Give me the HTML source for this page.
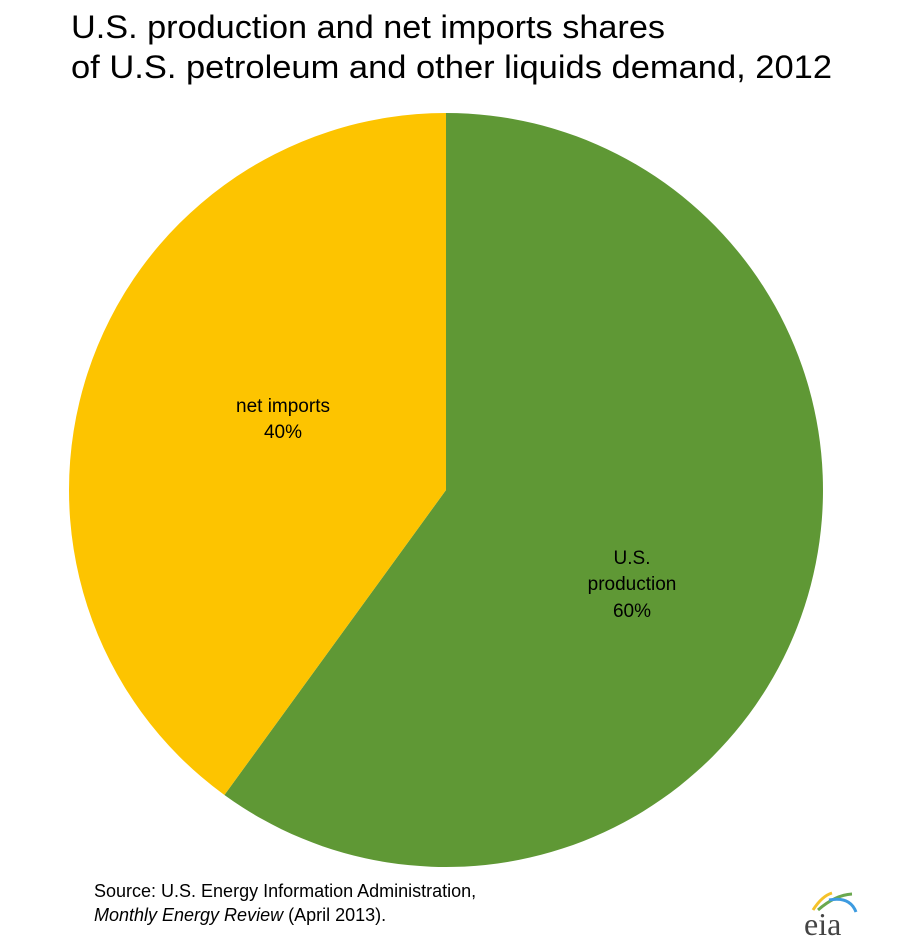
<!DOCTYPE html>
<html><head><meta charset="utf-8"><style>body{margin:0;background:#fff}svg{display:block}</style></head>
<body>
<svg width="900" height="951" viewBox="0 0 900 951" xmlns="http://www.w3.org/2000/svg" font-family="Liberation Sans, sans-serif">
<rect width="900" height="951" fill="#fff"/>
<text x="71" y="38" font-size="32" textLength="594" lengthAdjust="spacingAndGlyphs">U.S. production and net imports shares</text>
<text x="71" y="78" font-size="32" textLength="761" lengthAdjust="spacingAndGlyphs">of U.S. petroleum and other liquids demand,  2012</text>
<path d="M446,490 L446,113 A377,377 0 1,1 224.4,795 Z" fill="#5f9835"/>
<path d="M446,490 L224.4,795 A377,377 0 0,1 446,113 Z" fill="#fdc400"/>
<g font-size="19" text-anchor="middle" fill="#000">
<text x="283" y="412">net imports</text>
<text x="283" y="438">40%</text>
<text x="632" y="564">U.S.</text>
<text x="632" y="590">production</text>
<text x="632" y="617">60%</text>
</g>
<text x="94" y="897" font-size="18">Source:  U.S. Energy Information Administration,</text>
<text x="94" y="921" font-size="18"><tspan font-style="italic">Monthly Energy  Review</tspan> (April 2013).</text>
<path d="M813,910 Q822,896 832,893" stroke="#f5c22a" stroke-width="3" fill="none"/>
<path d="M818,910 Q835,895 852,894" stroke="#6aa84f" stroke-width="3" fill="none"/>
<path d="M829,900 Q850,896 856,912" stroke="#3d9be0" stroke-width="3" fill="none"/>
<text x="804" y="935" font-size="32" font-family="Liberation Serif, serif" fill="#444">eia</text>
</svg>
</body></html>
